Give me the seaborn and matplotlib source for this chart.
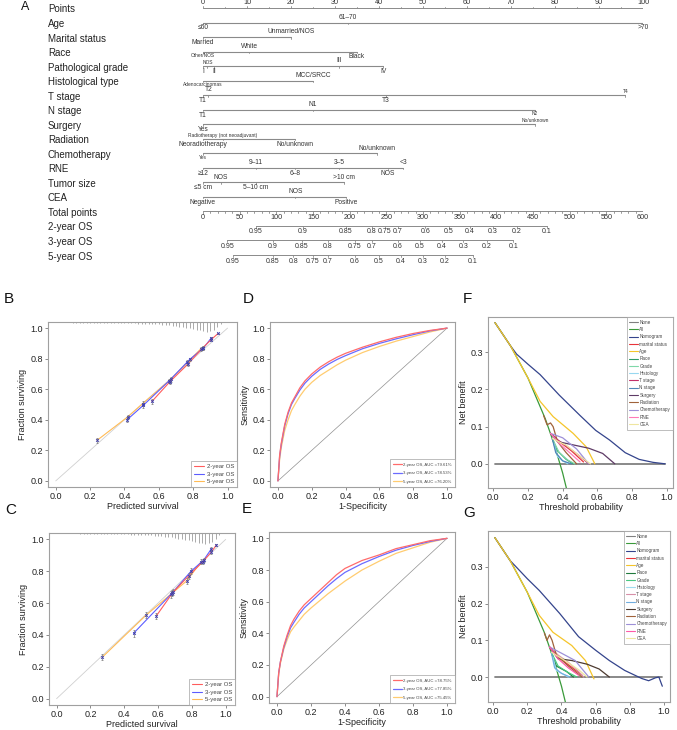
import numpy as np
import pandas as pd
import matplotlib
matplotlib.use("Agg")
import matplotlib.pyplot as plt
from matplotlib.lines import Line2D
import seaborn as sns

sns.set_style("white")
plt.rcParams['font.family'] = ['Liberation Sans', 'DejaVu Sans']

W, H = 677, 730

# ---------------- Nomogram (A) ----------------
# level positions on the 0-100 "Points" scale
age_pts = [0, 33, 100]
age_lab = ["≤60", "61–70", ">70"]
marital_pts = [0, 20]
marital_lab = ["Married", "Unmarried/NOS"]
race_pts = [0, 10.5, 35]
race_lab = ["Other/NOS", "White", "Black"]
grade_pts = [0, 1, 2.5, 31, 41]
grade_lab = ["I", "NOS", "II", "III", "IV"]
hist_pts = [0, 25]
hist_lab = ["Adenocarcinomas", "MCC/SRCC"]
t_pts = [0, 1.2, 41.5, 96]
t_lab = ["T1", "T2", "T3", "T4"]
n_pts = [0, 25, 75.5]
n_lab = ["T1", "N1", "N2"]
surg_pts = [0, 75.5]
surg_lab = ["Yes", "No/unknown"]
rad_pts = [0, 4.5, 21]
rad_lab = ["Neoradiotherapy", "Radiotherapy (not neoadjuvant)", "No/unknown"]
chemo_pts = [0, 39.5]
chemo_lab = ["Yes", "No/unknown"]
rne_pts = [0, 12, 21, 31, 42, 45.5]
rne_lab = ["≥12", "9–11", "6–8", "3–5", "NOS", "<3"]
size_pts = [0, 4, 12, 32]
size_lab = ["≤5 cm", "NOS", "5–10 cm", ">10 cm"]
cea_pts = [0, 21, 32.5]
cea_lab = ["Negative", "NOS", "Positive"]

# survival axes: probability labels and their position on the total points scale
os2_vals = [0.95, 0.9, 0.85, 0.8, 0.75, 0.7, 0.6, 0.5, 0.4, 0.3, 0.2, 0.1]
os2_tp = [72, 136, 195, 230, 248, 266, 303, 335, 364, 395, 428, 469]
os3_vals = [0.95, 0.9, 0.85, 0.8, 0.75, 0.7, 0.6, 0.5, 0.4, 0.3, 0.2, 0.1]
os3_tp = [33, 95, 135, 170, 207, 230, 266, 296, 326, 355, 387, 423]
os5_vals = [0.95, 0.85, 0.8, 0.75, 0.7, 0.6, 0.5, 0.4, 0.3, 0.2, 0.1]
os5_tp = [41, 95, 123, 150, 170, 207, 240, 270, 300, 330, 368]

# label side for each level: a = above the line, b = below
age_side = "bab"
marital_side = "ba"
race_side = "bab"
grade_side = "babab"
hist_side = "ba"
t_side = "baba"
n_side = "bab"
surg_side = "ba"
rad_side = "bab"
chemo_side = "ba"
rne_side = "bababa"
size_side = "baba"
cea_side = "bab"
small_labels = {"Other/NOS", "Adenocarcinomas", "T4", "N2", "Radiotherapy (not neoadjuvant)"}

# ---------------- Calibration (B, C) ----------------
b2_x = [0.56, 0.665, 0.77, 0.855, 0.905, 0.945]
b2_y = [0.52, 0.65, 0.765, 0.87, 0.925, 0.965]
b2_e = [0.015, 0.015, 0.015, 0.012, 0.01, 0.006]
b3_x = [0.415, 0.51, 0.66, 0.78, 0.86, 0.905]
b3_y = [0.40, 0.495, 0.655, 0.795, 0.87, 0.935]
b3_e = [0.015, 0.015, 0.015, 0.012, 0.012, 0.01]
b5_x = [0.24, 0.42, 0.505, 0.67, 0.765, 0.845]
b5_y = [0.265, 0.42, 0.505, 0.665, 0.775, 0.865]
b5_e = [0.015, 0.012, 0.015, 0.015, 0.015, 0.012]

c2_x = [0.59, 0.69, 0.78, 0.865, 0.915, 0.945]
c2_y = [0.52, 0.67, 0.77, 0.86, 0.92, 0.965]
c2_e = [0.02, 0.02, 0.02, 0.015, 0.012, 0.008]
c3_x = [0.455, 0.685, 0.795, 0.87, 0.915]
c3_y = [0.41, 0.665, 0.80, 0.87, 0.94]
c3_e = [0.02, 0.02, 0.018, 0.015, 0.012]
c5_x = [0.27, 0.53, 0.675, 0.77, 0.855]
c5_y = [0.26, 0.525, 0.655, 0.74, 0.86]
c5_e = [0.02, 0.02, 0.02, 0.02, 0.015]

# spike histogram of predicted survival (bins of 0.02 from 0.06 to 0.96)
spike_bins = np.arange(0.06, 0.97, 0.02)
b_spikes = [0.003, 0.003, 0.004, 0.004, 0.004, 0.005, 0.005, 0.005, 0.005, 0.006, 0.006, 0.006,
            0.006, 0.007, 0.007, 0.007, 0.008, 0.008, 0.008, 0.009, 0.009, 0.010, 0.010, 0.011,
            0.012, 0.013, 0.014, 0.015, 0.017, 0.019, 0.021, 0.024, 0.027, 0.030, 0.034, 0.038,
            0.042, 0.046, 0.050, 0.055, 0.060, 0.064, 0.060, 0.052, 0.035, 0.015]
c_spikes = [0.002, 0.003, 0.003, 0.003, 0.004, 0.004, 0.004, 0.005, 0.005, 0.005, 0.006, 0.006,
            0.006, 0.007, 0.007, 0.008, 0.008, 0.009, 0.009, 0.010, 0.010, 0.011, 0.012, 0.013,
            0.014, 0.015, 0.016, 0.018, 0.020, 0.022, 0.025, 0.028, 0.031, 0.035, 0.039, 0.043,
            0.047, 0.051, 0.055, 0.060, 0.065, 0.068, 0.063, 0.055, 0.038, 0.012]
ref_line = [0.0, 1.0]

# ---------------- ROC (D, E) ----------------
roc_fpr = [0, 0.01, 0.02, 0.04, 0.06, 0.08, 0.1, 0.13, 0.16, 0.2, 0.25, 0.3, 0.35, 0.4,
           0.5, 0.6, 0.7, 0.8, 0.9, 1.0]
d2_tpr = [0, 0.17, 0.25, 0.37, 0.45, 0.51, 0.55, 0.61, 0.655, 0.70, 0.745, 0.78, 0.81, 0.835,
          0.875, 0.91, 0.94, 0.965, 0.985, 1.0]
d3_tpr = [0, 0.16, 0.24, 0.36, 0.44, 0.50, 0.54, 0.595, 0.64, 0.685, 0.73, 0.765, 0.795, 0.82,
          0.865, 0.90, 0.93, 0.957, 0.982, 1.0]
d5_tpr = [0, 0.14, 0.22, 0.33, 0.40, 0.46, 0.50, 0.555, 0.60, 0.645, 0.69, 0.725, 0.76, 0.79,
          0.84, 0.88, 0.915, 0.945, 0.975, 1.0]
e2_tpr = [0, 0.15, 0.22, 0.32, 0.39, 0.45, 0.49, 0.54, 0.58, 0.62, 0.67, 0.72, 0.77, 0.81,
          0.86, 0.895, 0.935, 0.96, 0.985, 1.0]
e3_tpr = [0, 0.15, 0.22, 0.31, 0.38, 0.435, 0.47, 0.52, 0.56, 0.60, 0.65, 0.70, 0.745, 0.785,
          0.84, 0.885, 0.925, 0.955, 0.98, 1.0]
e5_tpr = [0, 0.14, 0.21, 0.30, 0.36, 0.41, 0.44, 0.48, 0.52, 0.56, 0.605, 0.65, 0.69, 0.73,
          0.80, 0.855, 0.905, 0.94, 0.975, 1.0]
d_labels = ["2-year OS, AUC =79.61%", "3-year OS, AUC =78.53%", "5-year OS, AUC =76.20%"]
e_labels = ["2-year OS, AUC =78.75%", "3-year OS, AUC =77.85%", "5-year OS, AUC =75.45%"]

# ---------------- Decision curves (F, G) ----------------
dca_models = ["None", "All", "Nomogram", "marital status", "Age", "Race", "Grade", "Histology",
              "T stage", "N stage", "Surgery", "Radiation", "Chemotherapy", "RNE", "CEA"]

none_x = [0.01, 0.99]
none_y = [0.0, 0.0]
all_x = [0.01, 0.1, 0.2, 0.3, 0.35, 0.4, 0.45]
all_y = [0.38, 0.317, 0.231, 0.121, 0.054, -0.025, -0.12]

f_nomo_x = [0.01, 0.1, 0.135, 0.2, 0.27, 0.38, 0.5, 0.59, 0.67, 0.76, 0.84, 0.92, 0.99]
f_nomo_y = [0.38, 0.317, 0.295, 0.268, 0.24, 0.185, 0.13, 0.09, 0.064, 0.03, 0.012, 0.004, 0.0]
f_age_x = [0.01, 0.1, 0.2, 0.27, 0.345, 0.46, 0.535, 0.585]
f_age_y = [0.38, 0.317, 0.231, 0.168, 0.127, 0.082, 0.046, 0.0]
f_mar_x = [0.33, 0.38, 0.45, 0.52]
f_mar_y = [0.082, 0.06, 0.035, 0.005]
f_race_x = [0.34, 0.37, 0.42, 0.46]
f_race_y = [0.068, 0.035, 0.012, 0.0]
f_grade_x = [0.34, 0.38, 0.43, 0.47]
f_grade_y = [0.068, 0.03, 0.01, 0.0]
f_hist_x = [0.35, 0.37, 0.4, 0.43]
f_hist_y = [0.054, 0.02, 0.008, 0.0]
f_t_x = [0.33, 0.37, 0.43, 0.5, 0.55]
f_t_y = [0.082, 0.065, 0.045, 0.02, 0.0]
f_n_x = [0.34, 0.36, 0.4, 0.45]
f_n_y = [0.068, 0.03, 0.008, 0.0]
f_surg_x = [0.33, 0.37, 0.45, 0.55, 0.63, 0.7]
f_surg_y = [0.082, 0.06, 0.052, 0.042, 0.028, 0.0]
f_rad_x = [0.29, 0.31, 0.33, 0.345, 0.37, 0.42, 0.48]
f_rad_y = [0.13, 0.105, 0.11, 0.1, 0.06, 0.03, 0.0]
f_chemo_x = [0.33, 0.4, 0.48, 0.55]
f_chemo_y = [0.082, 0.07, 0.04, 0.0]
f_rne_x = [0.33, 0.38, 0.44, 0.5]
f_rne_y = [0.082, 0.055, 0.03, 0.005]
f_cea_x = [0.34, 0.42, 0.5, 0.56]
f_cea_y = [0.068, 0.05, 0.02, 0.0]

g_nomo_x = [0.01, 0.1, 0.135, 0.2, 0.27, 0.39, 0.5, 0.6, 0.68, 0.77, 0.87, 0.91, 0.95, 0.97, 0.99]
g_nomo_y = [0.38, 0.317, 0.3, 0.268, 0.236, 0.173, 0.11, 0.073, 0.045, 0.018, -0.004, -0.01,
            -0.002, 0.0, -0.025]
g_age_x = [0.01, 0.1, 0.2, 0.27, 0.35, 0.46, 0.54, 0.59]
g_age_y = [0.38, 0.317, 0.231, 0.168, 0.122, 0.086, 0.045, -0.005]
g_mar_x = [0.33, 0.38, 0.45, 0.52]
g_mar_y = [0.082, 0.055, 0.03, 0.005]
g_race_x = [0.34, 0.37, 0.43, 0.47]
g_race_y = [0.068, 0.03, 0.015, 0.0]
g_grade_x = [0.34, 0.38, 0.44, 0.49]
g_grade_y = [0.068, 0.03, 0.012, 0.0]
g_hist_x = [0.35, 0.37, 0.41, 0.44]
g_hist_y = [0.054, 0.018, 0.008, 0.0]
g_t_x = [0.33, 0.38, 0.44, 0.5, 0.53]
g_t_y = [0.082, 0.06, 0.04, 0.015, 0.0]
g_n_x = [0.34, 0.36, 0.4, 0.45]
g_n_y = [0.068, 0.025, 0.01, 0.0]
g_surg_x = [0.33, 0.38, 0.46, 0.55, 0.62, 0.68]
g_surg_y = [0.082, 0.05, 0.045, 0.035, 0.022, 0.0]
g_rad_x = [0.3, 0.315, 0.33, 0.345, 0.37, 0.44, 0.52]
g_rad_y = [0.12, 0.1, 0.115, 0.1, 0.06, 0.03, 0.0]
g_chemo_x = [0.33, 0.4, 0.48, 0.56]
g_chemo_y = [0.082, 0.065, 0.045, 0.0]
g_rne_x = [0.33, 0.38, 0.44, 0.5]
g_rne_y = [0.082, 0.05, 0.025, 0.005]
g_cea_x = [0.34, 0.42, 0.5, 0.55]
g_cea_y = [0.068, 0.045, 0.02, 0.0]

# colours
cal_colors = {"2-year OS": "#ff5c5c", "3-year OS": "#5c5cff", "5-year OS": "#ffbb55"}
roc_colors = ["#ff6b6b", "#6b6bff", "#ffcc70"]
f_colors = ["#808080", "#3a9a3a", "#34448c", "#e8343a", "#f5c52a", "#2e9a66", "#7fd8a8",
            "#98d8f0", "#c2306a", "#4f86b8", "#5e3b66", "#a0623a", "#9d90d8", "#ff7ab8", "#efe6a0"]
g_colors = ["#808080", "#3a9a3a", "#34448c", "#e8343a", "#f5c52a", "#1f7a3c", "#48c880",
            "#a0dcf0", "#d890a8", "#70aee0", "#4d3a30", "#a0623a", "#9d90d8", "#ff5aa8", "#efe6a0"]

TXT = "#222222"
GRID = "#8a8a8a"


def px_rect(x0, y0, x1, y1):
    return [x0 / W, 1 - y1 / H, (x1 - x0) / W, (y1 - y0) / H]


def style_panel(ax, xlim, ylim, yticks, xlabel, ylabel):
    ax.set_xlim(xlim)
    ax.set_ylim(ylim)
    xt = [0, 0.2, 0.4, 0.6, 0.8, 1.0]
    ax.set_xticks(xt)
    ax.set_xticklabels([f"{t:.1f}" for t in xt])
    ax.set_yticks(yticks)
    ax.set_yticklabels([f"{t:.1f}" for t in yticks])
    for s in ax.spines.values():
        s.set_color("#a0a0a0")
        s.set_linewidth(0.8)
    ax.tick_params(bottom=True, left=True, direction="out", length=2.5, width=0.6,
                   color="#777777", labelsize=6.5, pad=1.2, labelcolor=TXT)
    ax.set_xlabel(xlabel, fontsize=6.5, labelpad=0.3, color=TXT)
    ax.set_ylabel(ylabel, fontsize=6.5, labelpad=2, color=TXT)


fig = plt.figure(figsize=(W / 100, H / 100), dpi=100)

# ---------- A: nomogram ----------
axn = fig.add_axes(px_rect(203, 0, 643, 265))
axn.set_xlim(0, 100)
axn.set_ylim(265, 0)
axn.axis("off")

ROW0, PITCH = 8, 14.53
LABEL_X = (48 - 203) / 4.4

def row_y(i):
    return ROW0 + i * PITCH

names = ["Points", "Age", "Marital status", "Race", "Pathological grade", "Histological type",
         "T stage", "N stage", "Surgery", "Radiation", "Chemotherapy", "RNE", "Tumor size",
         "CEA", "Total points", "2-year OS", "3-year OS", "5-year OS"]
for i, nm in enumerate(names):
    axn.text(LABEL_X, row_y(i) + 1.5, nm, fontsize=7, color=TXT, ha="left", va="center")
axn.text((25 - 203) / 4.4, 7, "A", fontsize=9, color="#111", ha="center", va="center")

# Points axis
y0 = row_y(0)
axn.plot([0, 100], [y0, y0], color=GRID, lw=0.7)
for v in range(0, 101, 5):
    tl = 2.4 if v % 10 == 0 else 1.4
    axn.plot([v, v], [y0 - tl, y0], color=GRID, lw=0.6)
    if v % 10 == 0:
        axn.text(v, y0 - 5, str(v), fontsize=5.2, color="#333", ha="center", va="center")

variables = [(age_pts, age_lab, age_side), (marital_pts, marital_lab, marital_side),
             (race_pts, race_lab, race_side), (grade_pts, grade_lab, grade_side),
             (hist_pts, hist_lab, hist_side), (t_pts, t_lab, t_side), (n_pts, n_lab, n_side),
             (surg_pts, surg_lab, surg_side), (rad_pts, rad_lab, rad_side),
             (chemo_pts, chemo_lab, chemo_side), (rne_pts, rne_lab, rne_side),
             (size_pts, size_lab, size_side), (cea_pts, cea_lab, cea_side)]
for i, (pts, labs, side) in enumerate(variables, start=1):
    y = row_y(i)
    axn.plot([min(pts), max(pts)], [y, y], color=GRID, lw=0.8)
    for p, lab, sd in zip(pts, labs, side):
        axn.plot([p, p], [y, y + 1.6], color=GRID, lw=0.6)
        small = (lab in small_labels or (i == 8 and lab == "No/unknown")
                 or (i == 10 and lab == "Yes") or (i == 4 and lab == "NOS"))
        fs = 3.5 if small else 4.8
        if sd == "a":
            yy = y - (3.6 if small else 5.2)
        else:
            yy = y + (3.9 if small else 5.4)
        axn.text(p, yy, lab, fontsize=fs, color="#333", ha="center", va="center")

# Total points axis
yt = row_y(14)
axn.plot([0, 100], [yt, yt], color=GRID, lw=0.7)
for v in range(0, 601, 10):
    tl = 2.2 if v % 50 == 0 else 1.3
    axn.plot([v / 6, v / 6], [yt, yt + tl], color=GRID, lw=0.6)
    if v % 50 == 0:
        axn.text(v / 6, yt + 6, str(v), fontsize=5.2, color="#333", ha="center", va="center")

# survival probability axes
for i, (vals, tp) in zip([15, 16, 17], [(os2_vals, os2_tp), (os3_vals, os3_tp), (os5_vals, os5_tp)]):
    y = row_y(i)
    pos = [t / 6 for t in tp]
    axn.plot([pos[0], pos[-1]], [y, y], color=GRID, lw=0.7)
    for p, v in zip(pos, vals):
        axn.plot([p, p], [y, y + 1.8], color=GRID, lw=0.6)
        axn.text(p, y + 6, f"{v:g}", fontsize=5.0, color="#333", ha="center", va="center")

# ---------- B, C: calibration ----------
def calib(ax, series, spikes, letter):
    rows = []
    for name, x, y, e in series:
        rows += [(name, a, b) for a, b in zip(x, y)]
    df = pd.DataFrame(rows, columns=["series", "pred", "obs"])
    ax.plot(ref_line, ref_line, color="#d0d0d0", lw=0.6, zorder=1)
    sns.lineplot(data=df, x="pred", y="obs", hue="series", palette=cal_colors,
                 hue_order=["5-year OS", "3-year OS", "2-year OS"], sort=False,
                 lw=0.8, legend=False, ax=ax, zorder=3)
    for name, x, y, e in series:
        ax.errorbar(x, y, yerr=e, fmt="none", ecolor="#7a7a7a", elinewidth=0.5,
                    capsize=1.0, capthick=0.5, zorder=4)
    sns.scatterplot(data=df, x="pred", y="obs", marker="x", s=4, color="#3b3bb0",
                    linewidth=0.6, ax=ax, zorder=5)
    style_panel(ax, (-0.045, 1.055), (-0.04, 1.04), [0, 0.2, 0.4, 0.6, 0.8, 1.0],
                "Predicted survival", "Fraction surviving")
    top = ax.get_ylim()[1]
    ax.vlines(spike_bins, [top - h for h in spikes], top, color="#888888", lw=0.5)
    handles = [Line2D([], [], color=cal_colors[k], lw=0.8) for k in ["2-year OS", "3-year OS", "5-year OS"]]
    lg = ax.legend(handles, ["2-year OS", "3-year OS", "5-year OS"], loc="lower right",
                   fontsize=4.3, frameon=True, fancybox=False, handlelength=1.6,
                   labelspacing=0.35, borderpad=0.5, borderaxespad=0.0, handletextpad=0.5)
    lg.get_frame().set_edgecolor("#a0a0a0")
    lg.get_frame().set_linewidth(0.6)
    for t in lg.get_texts():
        t.set_color("#444")
    bb = ax.get_position()
    fig.text(bb.x0 - 44 / W, bb.y1 + 23 / H, letter, fontsize=11, color="#111", ha="left", va="center")

axB = fig.add_axes(px_rect(48, 322, 237, 487))
calib(axB, [("5-year OS", b5_x, b5_y, b5_e), ("3-year OS", b3_x, b3_y, b3_e),
            ("2-year OS", b2_x, b2_y, b2_e)], b_spikes, "B")
axC = fig.add_axes(px_rect(49, 533, 235, 705))
calib(axC, [("5-year OS", c5_x, c5_y, c5_e), ("3-year OS", c3_x, c3_y, c3_e),
            ("2-year OS", c2_x, c2_y, c2_e)], c_spikes, "C")

# ---------- D, E: ROC ----------
def roc(ax, tprs, labels, letter):
    rows = []
    for lab, t in zip(labels, tprs):
        rows += [(lab, a, b) for a, b in zip(roc_fpr, t)]
    df = pd.DataFrame(rows, columns=["series", "fpr", "tpr"])
    ax.plot(ref_line, ref_line, color="#909090", lw=0.5, zorder=1)
    sns.lineplot(data=df, x="fpr", y="tpr", hue="series", palette=dict(zip(labels, roc_colors)),
                 hue_order=labels[::-1], sort=False, lw=0.9, legend=False, ax=ax, zorder=3)
    style_panel(ax, (-0.047, 1.047), (-0.04, 1.04), [0, 0.2, 0.4, 0.6, 0.8, 1.0],
                "1-Specificity", "Sensitivity")
    handles = [Line2D([], [], color=c, lw=0.9) for c in roc_colors]
    lg = ax.legend(handles, labels, loc="lower right", fontsize=3.1, frameon=True,
                   fancybox=False, handlelength=2.0, labelspacing=1.0, borderpad=0.8,
                   borderaxespad=0.0, handletextpad=0.3)
    lg.get_frame().set_edgecolor("#a0a0a0")
    lg.get_frame().set_linewidth(0.6)
    for t in lg.get_texts():
        t.set_color("#444")
    bb = ax.get_position()
    fig.text(bb.x0 - 27 / W, bb.y1 + 23 / H, letter, fontsize=11, color="#111", ha="left", va="center")

axD = fig.add_axes(px_rect(270, 322, 455, 487))
roc(axD, [d2_tpr, d3_tpr, d5_tpr], d_labels, "D")
axE = fig.add_axes(px_rect(269, 532, 455, 703))
roc(axE, [e2_tpr, e3_tpr, e5_tpr], e_labels, "E")

# ---------- F, G: decision curves ----------
def dca(ax, curves, colors, ylim, letter):
    rows = []
    for name, (x, y) in zip(dca_models, curves):
        rows += [(name, a, b) for a, b in zip(x, y)]
    df = pd.DataFrame(rows, columns=["model", "thr", "nb"])
    pal = dict(zip(dca_models, colors))
    sns.lineplot(data=df[df.model == "None"], x="thr", y="nb", color=pal["None"], lw=1.3,
                 sort=False, legend=False, ax=ax, zorder=2)
    rest = df[df.model != "None"]
    sns.lineplot(data=rest, x="thr", y="nb", hue="model", palette=pal, hue_order=dca_models[1:],
                 sort=False, lw=0.9, legend=False, ax=ax, zorder=3)
    style_panel(ax, (-0.03, 1.035), ylim, [0.0, 0.1, 0.2, 0.3],
                "Threshold probability", "Net benefit")
    handles = [Line2D([], [], color=c, lw=0.8) for c in colors]
    lg = ax.legend(handles, dca_models, loc="upper right", fontsize=3.3, frameon=True,
                   fancybox=False, handlelength=1.8, labelspacing=0.5, borderpad=0.6,
                   borderaxespad=0.0, handletextpad=0.4)
    lg.get_frame().set_edgecolor("#a0a0a0")
    lg.get_frame().set_linewidth(0.6)
    for t in lg.get_texts():
        t.set_color("#444")
    bb = ax.get_position()
    fig.text(bb.x0 - 25 / W, bb.y1 + 18 / H, letter, fontsize=11, color="#111", ha="left", va="center")

f_curves = [(none_x, none_y), (all_x, all_y), (f_nomo_x, f_nomo_y), (f_mar_x, f_mar_y),
            (f_age_x, f_age_y), (f_race_x, f_race_y), (f_grade_x, f_grade_y),
            (f_hist_x, f_hist_y), (f_t_x, f_t_y), (f_n_x, f_n_y), (f_surg_x, f_surg_y),
            (f_rad_x, f_rad_y), (f_chemo_x, f_chemo_y), (f_rne_x, f_rne_y), (f_cea_x, f_cea_y)]
g_curves = [(none_x, none_y), (all_x, all_y), (g_nomo_x, g_nomo_y), (g_mar_x, g_mar_y),
            (g_age_x, g_age_y), (g_race_x, g_race_y), (g_grade_x, g_grade_y),
            (g_hist_x, g_hist_y), (g_t_x, g_t_y), (g_n_x, g_n_y), (g_surg_x, g_surg_y),
            (g_rad_x, g_rad_y), (g_chemo_x, g_chemo_y), (g_rne_x, g_rne_y), (g_cea_x, g_cea_y)]

axF = fig.add_axes(px_rect(488, 317, 673, 488))
dca(axF, f_curves, f_colors, (-0.065, 0.395), "F")
axG = fig.add_axes(px_rect(488, 531, 670, 702))
dca(axG, g_curves, g_colors, (-0.068, 0.398), "G")

fig.savefig("out.png", dpi=100)
